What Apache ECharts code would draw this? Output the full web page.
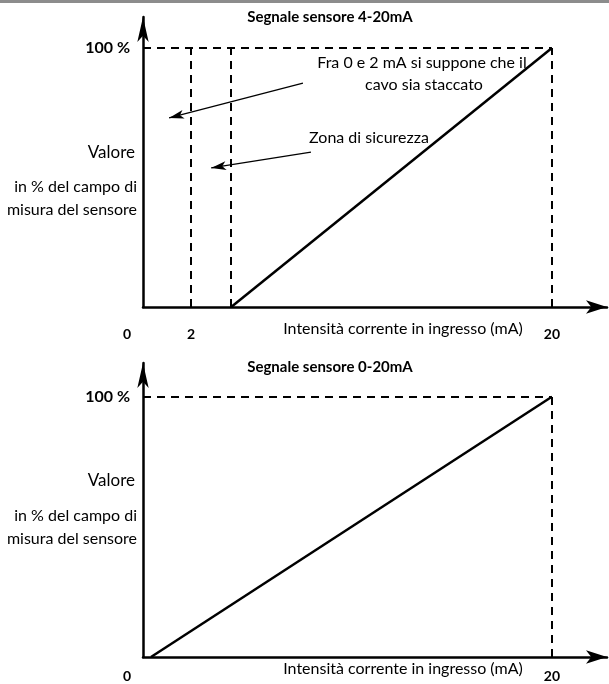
<!DOCTYPE html>
<html>
<head>
<meta charset="utf-8">
<script src="https://cdn.jsdelivr.net/npm/echarts@6/dist/echarts.min.js"></script>
<style>html,body{margin:0;padding:0;background:#fff}#c{width:609px;height:684px}</style>
</head>
<body>
<div id="c"></div>
<script>
// ---- data ----
const titles = ['Segnale sensore 4-20mA', 'Segnale sensore 0-20mA'];
const xAxisName = 'Intensità corrente in ingresso (mA)';
const yTexts = ['Valore', 'in % del campo di', 'misura del sensore'];
const xTicksTop = [0, 2, 20];
const xTicksBottom = [0, 20];
const yTicks = [100];
// signal 4-20 mA: current (mA) -> value (%)
const currentTop = [4, 20];
const valueTop = [0, 100];
// signal 0-20 mA
const currentBottom = [0, 20];
const valueBottom = [0, 100];
// dashed reference lines (mA)
const dashedTop = [2, 4, 20];
const dashedBottom = [20];
const fullScale = 100;
const xMin = -0.4, xMax = 22.75;
// annotations [text lines], arrow [from, to] in data units (mA, %)
const noteCable = ['Fra 0 e 2 mA si suppone che il', 'cavo sia staccato'];
const arrowCable = [[7.58, 86.5], [0.9, 73]];
const noteSafety = 'Zona di sicurezza';
const arrowSafety = [[7.98, 59.8], [3.0, 53.7]];

const FONT = 'Lato';

function xAxisCfg(grid, ticks, margin) {
  return {
    type: 'value', gridIndex: grid, min: xMin, max: xMax,
    splitLine: {show: false}, axisTick: {show: false},
    axisLine: {onZero: false, symbol: ['none', 'arrow'], symbolSize: [10, 21],
      lineStyle: {color: '#000', width: 2.5}},
    axisLabel: {
      customValues: ticks, margin: margin,
      formatter: v => v === 0 ? '{z|0}' : '{b|' + v + '}',
      rich: {
        z: {fontFamily: FONT, fontWeight: 'bold', fontSize: 14, color: '#000', padding: [0, 48, 0, 0]},
        b: {fontFamily: FONT, fontWeight: 'bold', fontSize: 14, color: '#000'}
      }
    }
  };
}
function yAxisCfg(grid, max) {
  return {
    type: 'value', gridIndex: grid, min: 0, max: max,
    splitLine: {show: false}, axisTick: {show: false},
    axisLine: {show: true, onZero: false, symbol: ['none', 'arrow'], symbolSize: [8.5, 25],
      lineStyle: {color: '#000', width: 2.5}},
    axisLabel: {customValues: yTicks, margin: 13, formatter: '{value} %',
      fontFamily: FONT, fontWeight: 'bold', fontSize: 16, color: '#000'}
  };
}
const dashStyle = {color: '#000', width: 2, type: [8, 6]};
function dashLines(verticals) {
  const d = [[{coord: [xMin, fullScale]}, {coord: [20, fullScale]}]];
  verticals.forEach(x => d.push([{coord: [x, 0]}, {coord: [x, fullScale]}]));
  return d;
}
function textEl(txt, x, y, align, opts) {
  return {type: 'text', x: x, y: y, silent: true,
    style: Object.assign({text: txt, fill: '#000', font: '16px ' + FONT, align: align, verticalAlign: 'middle'}, opts || {})};
}

const chart = echarts.init(document.getElementById('c'), null, {renderer: 'canvas'});
chart.setOption({
  animation: false,
  backgroundColor: '#fff',
  grid: [
    {left: 143, top: 17, width: 464, height: 290},
    {left: 143, top: 363, width: 464, height: 294}
  ],
  xAxis: [xAxisCfg(0, xTicksTop, 20), xAxisCfg(1, xTicksBottom, 12)],
  yAxis: [yAxisCfg(0, 112), yAxisCfg(1, 113)],
  series: [
    {type: 'line', xAxisIndex: 0, yAxisIndex: 0, showSymbol: false, silent: true,
      data: currentTop.map((c, i) => [c, valueTop[i]]),
      lineStyle: {color: '#000', width: 2.5},
      markLine: {silent: true, symbol: ['none', 'none'], label: {show: false},
        lineStyle: dashStyle, data: dashLines(dashedTop)}},
    {type: 'line', xAxisIndex: 0, yAxisIndex: 0, showSymbol: false, silent: true, data: [],
      markLine: {silent: true, symbol: ['none', 'arrow'], symbolSize: [6.5, 15], label: {show: false},
        lineStyle: {color: '#000', width: 1.3, type: 'solid'},
        data: [
          [{coord: arrowCable[0]}, {coord: arrowCable[1]}],
          [{coord: arrowSafety[0]}, {coord: arrowSafety[1]}]
        ]}},
    {type: 'line', xAxisIndex: 1, yAxisIndex: 1, showSymbol: false, silent: true,
      data: currentBottom.map((c, i) => [c, valueBottom[i]]),
      lineStyle: {color: '#000', width: 2.5},
      markLine: {silent: true, symbol: ['none', 'none'], label: {show: false},
        lineStyle: dashStyle, data: dashLines(dashedBottom)}}
  ],
  graphic: [
    {type: 'rect', shape: {x: 0, y: 0, width: 609, height: 3}, style: {fill: '#8c8c8c'}, silent: true},
    textEl(titles[0], 330, 17, 'center', {font: 'bold 15px ' + FONT}),
    textEl(titles[1], 330, 367, 'center', {font: 'bold 15px ' + FONT}),
    textEl(yTexts[0], 135, 153, 'right', {font: '17px ' + FONT}),
    textEl(yTexts[1], 137, 187, 'right'),
    textEl(yTexts[2], 137, 210, 'right'),
    textEl(yTexts[0], 135, 481, 'right', {font: '17px ' + FONT}),
    textEl(yTexts[1], 137, 516, 'right'),
    textEl(yTexts[2], 137, 539, 'right'),
    textEl(xAxisName, 403, 329, 'center'),
    textEl(xAxisName, 403, 669, 'center'),
    textEl(noteCable[0], 422, 63, 'center'),
    textEl(noteCable[1], 424, 85, 'center'),
    textEl(noteSafety, 369, 138, 'center')
  ]
});
</script>
</body>
</html>
